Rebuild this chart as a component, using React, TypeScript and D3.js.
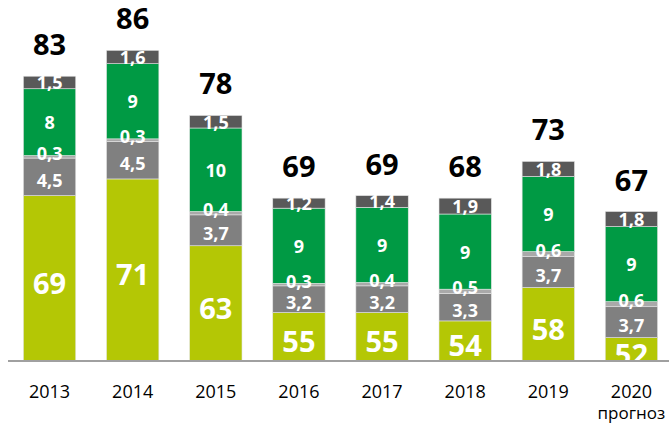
import * as d3 from "d3";

const years = ["2013", "2014", "2015", "2016", "2017", "2018", "2019", "2020"];
const base = [69, 71, 63, 55, 55, 54, 58, 52];
const grayMain = [4.5, 4.5, 3.7, 3.2, 3.2, 3.3, 3.7, 3.7];
const grayLight = [0.3, 0.3, 0.4, 0.3, 0.4, 0.5, 0.6, 0.6];
const green = [8, 9, 10, 9, 9, 9, 9, 9];
const dark = [1.5, 1.6, 1.5, 1.2, 1.4, 1.9, 1.8, 1.8];
const totals = [83, 86, 78, 69, 69, 68, 73, 67];
const footnote = "прогноз";

const keys = ["base", "grayMain", "grayLight", "green", "dark"];
const series = [base, grayMain, grayLight, green, dark];
const colors = ["#b4c705", "#808080", "#a9a9a9", "#009a44", "#595959"];
// small vertical nudges so the thin-segment labels sit like the original
const labelShift = [4, 3, -4, 0, 0];

const W = 669;
const H = 423;
const axisY = 361;
const font = "'Open Sans', sans-serif";

const fmt = (v: number) => String(v).replace(".", ",");

export default function App() {
  const rows = years.map((yr, i) => {
    const r: any = { year: yr };
    keys.forEach((k, j) => (r[k] = series[j][i]));
    return r;
  });
  const stacked = d3.stack().keys(keys)(rows);

  const x = d3.scaleBand().domain(years).range([8, 673]).paddingInner(0.37).paddingOuter(0.185);
  // truncated value axis, the base segment starts well above zero
  const y = d3.scaleLinear().domain([49.2, 86.2]).range([axisY, 52]);
  const yb = (v: number) => Math.min(y(v), axisY);

  return (
    <svg width={W} height={H} style={{ position: "absolute", left: 0, top: 0, background: "#fff" }} fontFamily={font}>
      <defs>
        <clipPath id="plot">
          <rect x={0} y={0} width={W} height={axisY} />
        </clipPath>
      </defs>
      <g clipPath="url(#plot)">
        {stacked.map((s, j) =>
          s.map((d: any, i) => {
            const bx = x(years[i])!;
            const y0 = yb(d[0]);
            const y1 = yb(d[1]);
            return (
              <rect
                key={keys[j] + i}
                x={bx}
                y={y1}
                width={x.bandwidth()}
                height={Math.max(0, y0 - y1)}
                fill={colors[j]}
                stroke="#e4e4e4"
                strokeWidth={0.6}
              />
            );
          })
        )}
        {stacked.map((s, j) =>
          s.map((d: any, i) => {
            const cx = x(years[i])! + x.bandwidth() / 2;
            const cy = (yb(d[0]) + yb(d[1])) / 2;
            const big = j === 0;
            return (
              <text
                key={"l" + keys[j] + i}
                x={cx}
                y={cy + labelShift[j]}
                textAnchor="middle"
                dominantBaseline="central"
                fill="#fff"
                fontWeight={700}
                fontSize={big ? 29 : 18}
              >
                {fmt(series[j][i])}
              </text>
            );
          })
        )}
      </g>
      {totals.map((t, i) => (
        <text
          key={"t" + i}
          x={x(years[i])! + x.bandwidth() / 2}
          y={y(stacked[4][i][1]) - 21}
          textAnchor="middle"
          fontWeight={700}
          fontSize={29}
          fill="#000"
        >
          {t}
        </text>
      ))}
      <line x1={8} x2={W} y1={axisY} y2={axisY} stroke="#a0a0a0" strokeWidth={2} />
      {years.map((yr) => (
        <text key={"x" + yr} x={x(yr)! + x.bandwidth() / 2} y={398} textAnchor="middle" fontSize={18} fill="#000">
          {yr}
        </text>
      ))}
      <text x={x(years[7])! + x.bandwidth() / 2} y={419} textAnchor="middle" fontSize={17} fill="#000">
        {footnote}
      </text>
    </svg>
  );
}
